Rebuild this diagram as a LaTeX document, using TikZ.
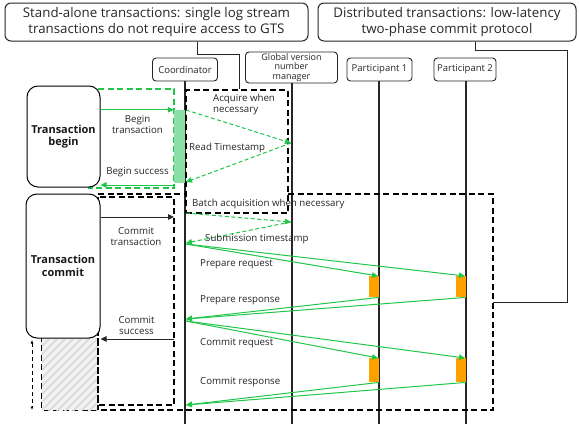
\documentclass[tikz,border=0pt]{standalone}
\usepackage{fontspec}
\setmainfont{Open Sans}
\usetikzlibrary{arrows.meta}
\definecolor{gr}{HTML}{21C54A}
\definecolor{grlight}{HTML}{8BE0A6}
\definecolor{orng}{HTML}{FFA200}
\definecolor{hatchc}{HTML}{D9D9D9}
\begin{document}
\begin{tikzpicture}[x=1pt,y=-1pt,
  topbox/.style={draw=black!85, rounded corners=6, line width=1, font=\fontsize{13.3}{15.5}\selectfont, text=black!85, align=center, inner sep=0},
  hdr/.style={draw=black!85, rounded corners=3.5, line width=0.9, font=\fontsize{9.5}{10}\selectfont, text=black!85, align=center, inner sep=0},
  phase/.style={draw=black, rounded corners=11, line width=1, fill=white, font=\bfseries\fontsize{11}{12.5}\selectfont, text=black!90, align=center, inner sep=0},
  life/.style={line width=1.1, draw=black!85},
  bdash/.style={line width=1.6, dash pattern=on 6pt off 3.5pt},
  gdash/.style={bdash, draw=gr},
  garr/.style={draw=gr, line width=1, -{Triangle[length=6pt,width=5.5pt]}},
  gdarr/.style={garr, dash pattern=on 4pt off 2.5pt},
  karr/.style={draw=black!85, line width=1, -{Triangle[length=6pt,width=5.5pt]}},
  lbl/.style={font=\fontsize{9.7}{11}\selectfont, text=black!85, inner sep=0, align=center},
  lbll/.style={lbl, anchor=west, align=left},
  conn/.style={draw=black!85, line width=1},
  bar/.style={fill=orng, inner sep=0, minimum width=10, minimum height=#1}
]
\useasboundingbox (0,0) rectangle (579,426);

% top annotation boxes
\node[topbox, minimum width=303, minimum height=38] (sa) at (156.5,22)
  {Stand-alone transactions: single log stream\\transactions do not require access to GTS};
\node[topbox, minimum width=258, minimum height=38] (dt) at (447,22)
  {Distributed transactions: low-latency\\two-phase commit protocol};

% participants
\node[hdr, minimum width=65, minimum height=23] (co) at (185,69.5) {Coordinator};
\node[hdr, minimum width=92, minimum height=31, font=\fontsize{9}{9.8}\selectfont] (gv) at (291.5,67.5) {Global version\\number\\manager};
\node[hdr, minimum width=65, minimum height=23] (p1) at (379.5,69.5) {Participant 1};
\node[hdr, minimum width=62, minimum height=23] (p2) at (465,69.5) {Participant 2};

\coordinate (coL) at (185,0);
\coordinate (gvL) at (292,0);
\coordinate (p1L) at (379,0);
\coordinate (p2L) at (466,0);

% lifelines
\draw[life] (co.south) -- (coL |- 0,424);
\draw[life] (gv.south -| gvL) -- (gvL |- 0,424);
\draw[life] (p1.south -| p1L) -- (p1L |- 0,424);
\draw[life] (p2.south -| p2L) -- (p2L |- 0,424);

% big dashed region of the commit phase
\draw[bdash] (98,194) -- (493,194) -- (493,410) -- (42,410) -- (42,338);
\coordinate (bigE) at (493,302);

% hatched area
\fill[black!5] (42,338) rectangle (98,410);
\begin{scope}
  \clip (42,338) rectangle (98,410);
  \foreach \k in {0,8,...,140} {
    \draw[hatchc, line width=1.6] (42+\k-80,418) -- (42+\k,338);
  }
\end{scope}
\draw[bdash] (98,338) -- (98,410);

% commit dashed box
\draw[bdash] (98,197) rectangle (174,405);

% begin green dashed box
\draw[gdash] (98,89) -- (174,89) -- (174,188) -- (88,188);

% acquire box
\node[draw=black, bdash, fill=white, minimum width=102, minimum height=123, inner sep=0] (acq) at (237,151.5) {};

% phase boxes
\node[phase, minimum width=73, minimum height=101] (tb) at (63.5,136.5) {Transaction\\begin};
\node[phase, minimum width=74, minimum height=144] (tc) at (63,266) {Transaction\\commit};

% green activation bar
\node[fill=grlight, inner sep=0, minimum width=11, minimum height=73] (gbar) at (179.5,146.5) {};

% annotation connectors
\draw[conn] (sa.south -| 197,0) |- (239,54) -- (acq.north -| 239,0);
\draw[conn] (dt.south -| 475,0) |- (567,50) |- (bigE);

% begin phase messages
\draw[garr] (tb.east |- gbar.north) -- (gbar.north west);
\draw[garr] (gbar.south west |- 0,185) -- (tb.east |- 0,185);
\node[lbl] (l1) at (137.5,124) {Begin\\transaction};
\node[lbl] (l2) at (137.5,172) {Begin success};

\coordinate (rt) at (291,143);
\draw[gdarr] (coL |- 0,110) ++(1,0) -- (rt);
\draw[gdarr] (rt) -- (186,182);
\node[lbll] (l3) at (213,104) {Acquire when\\necessary};
\node[lbll] (l4) at (189,148) {Read Timestamp};

% commit phase messages
\draw[karr] (tc.east |- 0,217) -- (174,217);
\node[lbl] (l5) at (136,236) {Commit\\transaction};

\node[lbll] (l6) at (192,203.5) {Batch acquisition when necessary};
\coordinate (bt) at (291,222);
\draw[gdarr] (186,213) -- (bt);
\draw[gdarr] (bt) -- (186,243);
\node[lbll] (l7) at (205,239) {Submission timestamp};

% bars
\node[bar=21, anchor=north east] (b1) at (379,276) {};
\node[bar=21, anchor=north east] (b2) at (466,276) {};
\node[bar=24, anchor=north east] (b3) at (379,358) {};
\node[bar=24, anchor=north east] (b4) at (466,358) {};

\coordinate (pq) at (186,244);
\coordinate (pr) at (186,319);
\coordinate (cq) at (186,321);
\coordinate (cr) at (186,405);

\draw[garr] (pq) -- ([xshift=-1]b1.north east);
\draw[garr] (pq) -- ([xshift=-1]b2.north east);
\draw[garr] (b1.south east) -- (pr);
\draw[garr] (b2.south east) -- (pr);
\draw[garr] (cq) -- ([xshift=-1]b3.north east);
\draw[garr] (cq) -- ([xshift=-1]b4.north east);
\draw[garr] (b3.south east) -- (cr);
\draw[garr] (b4.south east) -- (cr);

\node[lbll] (l8) at (200,264) {Prepare request};
\node[lbll] (l9) at (200,300) {Prepare response};
\node[lbll] (l10) at (200,343) {Commit request};
\node[lbll] (l11) at (200,382) {Commit response};

\draw[karr] (174,339) -- (tc.east |- 0,339);
\node[lbl] (l12) at (136.5,325) {Commit\\success};

% duration arrow
\coordinate (d1) at (32,340);
\coordinate (d2) at (32,410);
\draw[draw=black, line width=1, dash pattern=on 4pt off 3pt, {Latex[length=3.5pt,width=3pt]}-{Latex[length=3.5pt,width=3pt]}] (d1) -- (d2);
\end{tikzpicture}
\end{document}
